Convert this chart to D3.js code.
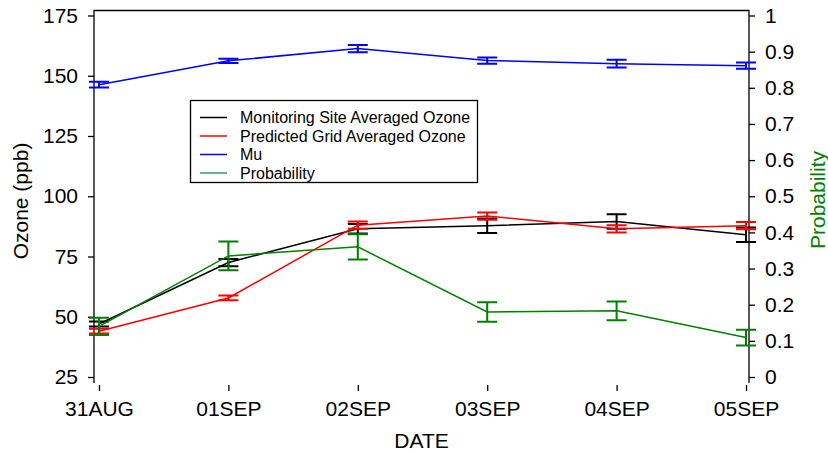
<!DOCTYPE html>
<html>
<head>
<meta charset="utf-8">
<script src="https://cdn.jsdelivr.net/npm/d3@7"></script>
<style>
  body { margin: 0; background: #fff; }
  text { font-family: "Liberation Sans", Arial, sans-serif; }
</style>
</head>
<body>
<svg width="828" height="454"></svg>
<script>
// Data
var dates = ['31AUG', '01SEP', '02SEP', '03SEP', '04SEP', '05SEP']
var siteOzone = [47, 72.5, 86.5, 87.8, 89.5, 84]
var siteErr = [1, 1.5, 2, 3, 3, 3]
var gridOzone = [44, 57.8, 88, 91.8, 86.5, 87.8]
var gridErr = [1, 1, 1.5, 1.5, 1.5, 1.5]
var mu = [146.3, 156.2, 161.3, 156.3, 155, 154.2]
var muErr = [1.2, 0.9, 1.5, 1.3, 1.6, 1.3]
var prob = [0.14, 0.335, 0.36, 0.18, 0.183, 0.109]
var probErr = [0.024, 0.04, 0.035, 0.027, 0.026, 0.022]
var leftTicks = [25, 50, 75, 100, 125, 150, 175]
var rightTicks = [0, 0.1, 0.2, 0.3, 0.4, 0.5, 0.6, 0.7, 0.8, 0.9, 1]

var svg = d3.select('svg')

// Scales
var x = d3.scalePoint().domain(dates).range([99, 746])
var yL = d3.scaleLinear().domain([25, 175]).range([377, 15.5])
var yR = d3.scaleLinear().domain([0, 1]).range([377, 15.5])

var plotL = 94, plotR = 749, plotT = 10.5, plotB = 383

// Frame: left, right and top lines (no bottom line)
svg.append('path')
  .attr('d', 'M' + plotL + ',' + plotB + 'V' + plotT + 'H' + plotR + 'V' + plotB)
  .attr('fill', 'none')
  .attr('stroke', '#000')
  .attr('stroke-width', 1.3)

// Left axis
var gL = svg.append('g').attr('transform', 'translate(' + plotL + ',0)')
gL.call(d3.axisLeft(yL).tickValues(d3.range(25, 176, 5)).tickSize(3).tickFormat(''))
gL.call(d3.axisLeft(yL).tickValues(leftTicks).tickSize(6).tickPadding(10))
gL.selectAll('.domain').remove()
gL.selectAll('line').attr('stroke-width', 1.3)
gL.selectAll('text').style('font-size', '21px').attr('fill', '#000')

// Right axis
var gR = svg.append('g').attr('transform', 'translate(' + plotR + ',0)')
gR.call(d3.axisRight(yR).tickValues(d3.range(0, 51).map(function(i) { return i / 50 })).tickSize(3).tickFormat(''))
gR.call(d3.axisRight(yR).tickValues(rightTicks).tickSize(6).tickPadding(10).tickFormat(d3.format('')))
gR.selectAll('.domain').remove()
gR.selectAll('line').attr('stroke-width', 1.3)
gR.selectAll('text').style('font-size', '21px').attr('fill', '#000')

// Bottom axis (offset, no line)
var gB = svg.append('g').attr('transform', 'translate(0,385)')
gB.call(d3.axisBottom(x).tickSize(6).tickPadding(10))
gB.selectAll('.domain').remove()
gB.selectAll('line').attr('stroke-width', 1.3)
gB.selectAll('text').style('font-size', '21px').attr('fill', '#000')

// Axis titles
svg.append('text')
  .attr('transform', 'translate(28,201) rotate(-90)')
  .attr('text-anchor', 'middle')
  .style('font-size', '21px')
  .text('Ozone (ppb)')
svg.append('text')
  .attr('transform', 'translate(825,200) rotate(-90)')
  .attr('text-anchor', 'middle')
  .attr('fill', '#008000')
  .style('font-size', '21px')
  .text('Probability')
svg.append('text')
  .attr('x', (plotL + plotR) / 2)
  .attr('y', 448)
  .attr('text-anchor', 'middle')
  .style('font-size', '21px')
  .text('DATE')

// Series
var series = [
  { vals: siteOzone, err: siteErr, y: yL, color: '#000000' },
  { vals: gridOzone, err: gridErr, y: yL, color: '#ff0000' },
  { vals: mu, err: muErr, y: yL, color: '#0000ff' },
  { vals: prob, err: probErr, y: yR, color: '#008000' }
]

var capW = 10
series.forEach(function(s) {
  var g = svg.append('g')
  var line = d3.line()
    .x(function(d, i) { return x(dates[i]) })
    .y(function(d) { return s.y(d) })
  g.append('path')
    .datum(s.vals)
    .attr('d', line)
    .attr('fill', 'none')
    .attr('stroke', s.color)
    .attr('stroke-width', 1.5)

  g.selectAll('.eb')
    .data(s.vals)
    .enter()
    .append('path')
    .attr('d', function(d, i) {
      var cx = x(dates[i])
      var y0 = s.y(d - s.err[i]), y1 = s.y(d + s.err[i])
      return 'M' + (cx - capW) + ',' + y0 + 'H' + (cx + capW) +
        'M' + cx + ',' + y0 + 'V' + y1 +
        'M' + (cx - capW) + ',' + y1 + 'H' + (cx + capW)
    })
    .attr('fill', 'none')
    .attr('stroke', s.color)
    .attr('stroke-width', 2)
})

// Legend
var legendNames = ['Monitoring Site Averaged Ozone', 'Predicted Grid Averaged Ozone', 'Mu', 'Probability']
var legendColors = ['#000000', '#ff0000', '#0000ff', '#3a9a5a']
var lg = svg.append('g')
lg.append('rect')
  .attr('x', 190.5).attr('y', 100.5)
  .attr('width', 287).attr('height', 82)
  .attr('fill', '#fff')
  .attr('stroke', '#000')
  .attr('stroke-width', 1.3)
var rows = lg.selectAll('.row')
  .data(legendNames)
  .enter()
  .append('g')
  .attr('transform', function(d, i) { return 'translate(0,' + (117.5 + i * 18.5) + ')' })
rows.append('line')
  .attr('x1', 200).attr('x2', 227)
  .attr('stroke', function(d, i) { return legendColors[i] })
  .attr('stroke-width', 1.5)
rows.append('text')
  .attr('x', 240)
  .attr('dy', '0.35em')
  .style('font-size', '16px')
  .text(function(d) { return d })
</script>
</body>
</html>
